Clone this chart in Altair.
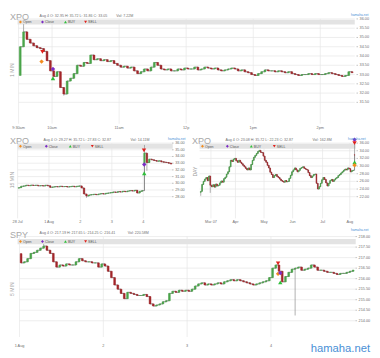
import altair as alt
import pandas as pd

# ---------------- canvas ----------------
W, H = 372, 350
SX, SY = W / 380.0, H / 358.0


def X(v):
    return round(v * SX, 2)


def Y(v):
    return round(v * SY, 2)


FONT = "Liberation Sans"
GREEN = "#4aa54a"
RED = "#a3262a"
WICK = "#8c8c8c"
LINE = "#555555"
GRID = "#e6e6e6"
LBL = "#707070"
BAND = "#e3e3e3"
TITLE_C = "#a8a8a8"
BLUE = "#4a90d6"
KIND_STYLE = {
    "Open": ("diamond", "#f28c1e"),
    "Close": ("diamond", "#7b2cc4"),
    "BUY": ("triangle-up", "#2fbf3a"),
    "SELL": ("triangle-down", "#e0201b"),
}
LEGEND_NAMES = ["Open", "Close", "BUY", "SELL"]

# ---------------- XPO 1 MIN (bars every 3 minutes from 9:30) ----------------
p1_close = [
    34.50, 35.30, 34.90, 34.70, 34.55, 34.45, 34.40, 34.25, 33.75, 33.20,
    32.90, 33.15, 32.30, 31.95, 32.65, 32.80, 33.05, 33.50, 33.45, 33.65,
    33.60, 34.05, 33.80, 33.85, 33.75, 33.80, 33.70, 33.75, 33.60, 33.50,
    33.40, 33.45, 33.35, 33.40, 33.20, 33.05, 33.15, 33.30, 33.20, 33.40,
    33.65, 33.50, 33.30, 33.25, 33.30, 33.20, 33.20, 33.30, 33.25, 33.35,
    33.30, 33.30, 33.40, 33.25, 33.30, 33.40, 33.35, 33.30, 33.35, 33.25,
    33.20, 33.25, 33.30, 33.35, 33.30, 33.20, 33.25, 33.15, 33.10, 33.00,
    32.95, 33.05, 33.15, 33.25, 33.20, 33.20, 33.15, 33.20, 33.15, 33.10,
    33.15, 33.05, 33.00, 32.95, 33.00, 33.00, 33.05, 33.00, 33.05, 33.00,
    33.00, 33.05, 33.10, 33.05, 33.00, 32.95, 32.90, 32.95, 33.15, 33.10,
]
p1_first_open = 32.95
p1_gap_opens = {}
p1_highs = {1: 35.72}
p1_lows = {13: 31.86}
p1_xticks = [0, 10, 30, 50, 70, 90]
p1_xlabels = ["9:30am", "10am", "11am", "12p", "1pm", "2pm"]
p1_yticks = [31.5, 32.0, 32.5, 33.0, 33.5, 34.0, 34.5, 35.0, 35.5, 36.0]
p1_mark_x = [6.87, 7.13, 10.27, 10.27]
p1_mark_p = [33.70, 34.22, 33.30, 32.80]
p1_mark_kind = ["Open", "SELL", "Close", "BUY"]

# ---------------- XPO 15 MIN (bars every 30 minutes, 29 Jul - 4 Aug) ----------------
p2_close = [
    29.35, 29.55, 29.60, 29.70, 29.65, 29.72, 29.68, 29.70, 29.62, 29.65, 29.60, 29.70, 29.62,
    29.40, 29.45, 29.50, 29.48, 29.55, 29.50, 29.52, 29.45, 29.50, 29.55, 29.48, 29.55, 29.60,
    29.30, 28.40, 28.10, 28.25, 28.30, 28.35, 28.30, 28.40, 28.45, 28.40, 28.50, 28.55, 28.60,
    28.70, 28.65, 28.75, 28.70, 28.80, 28.75, 28.85, 28.90, 28.85, 28.95, 28.55, 28.80, 28.90,
    34.50, 33.10, 33.60, 33.50, 33.40, 33.30, 33.35, 33.20, 33.15, 33.10, 33.00, 32.87,
]
p2_first_open = 29.27
p2_gap_opens = {52: 32.95}
p2_highs = {52: 35.72}
p2_lows = {28: 27.83, 53: 31.86}
p2_xticks = [0, 13, 26, 39, 52]
p2_xlabels = ["28 Jul", "1 Aug", "2", "3", "4"]
p2_yticks = [28, 29, 30, 31, 32, 33, 34, 35, 36]
p2_mark_x = [52.3, 52.4, 52.4]
p2_mark_p = [34.90, 32.80, 31.50]
p2_mark_kind = ["SELL", "Close", "BUY"]

# ---------------- XPO DAY (24 Feb - 4 Aug trading days) ----------------
p3_close = [
    23.40, 25.20, 26.00, 26.60, 27.00, 26.20, 27.40, 25.00, 24.60, 25.10,
    24.50, 25.30, 24.80, 25.00, 25.60, 26.10, 25.80, 26.70, 27.10, 27.90,
    28.50, 29.80, 31.50, 31.20, 31.80, 32.00, 31.40, 31.00, 31.50, 31.00,
    30.60, 30.20, 29.80, 29.40, 29.00, 29.50, 29.00, 30.40, 31.50, 32.30,
    32.80, 33.30, 33.80, 34.10, 33.60, 33.50, 32.60, 31.50, 31.00, 30.20,
    29.50, 28.40, 27.80, 27.00, 27.50, 27.80, 27.30, 27.00, 26.60, 26.20,
    26.00, 25.80, 26.20, 25.90, 26.00, 26.80, 27.60, 28.50, 29.00, 29.50,
    29.00, 28.50, 28.90, 29.40, 29.60, 29.80, 29.40, 29.20, 29.00, 28.30,
    27.50, 27.00, 27.40, 27.80, 27.90, 25.50, 24.00, 24.60, 25.50, 26.40,
    27.00, 26.50, 25.60, 24.80, 25.50, 26.20, 26.50, 26.00, 26.40, 26.80,
    27.00, 27.50, 27.80, 28.20, 28.50, 28.90, 29.20, 29.00, 29.50, 29.30,
    28.50, 28.80, 28.90, 32.87,
]
p3_first_open = 23.08
p3_gap_opens = {113: 32.95}
p3_highs = {113: 35.72}
p3_lows = {0: 22.23, 7: 23.00, 113: 30.00}
p3_xticks = [8, 26, 47, 68, 90, 110]
p3_xlabels = ["Mar 07", "Apr", "May", "Jun", "Jul", "Aug"]
p3_yticks = [22, 24, 26, 28, 30, 32, 34, 36]
p3_mark_x = [113.5, 113.5, 113.5, 113.5]
p3_mark_p = [36.90, 36.00, 31.00, 30.20]
p3_mark_kind = ["Close", "SELL", "BUY", "Open"]

# ---------------- SPY 5 MIN (bars every 15 minutes, 1 - 4 Aug) ----------------
p4_close = [
    216.75, 216.80, 216.95, 217.20, 217.25, 217.35, 217.45, 217.55, 217.35, 217.20,
    216.80, 216.55, 216.65, 216.60, 216.70, 216.65, 216.65, 216.80, 216.95, 216.85,
    216.80, 216.80, 216.75, 216.75, 216.55, 216.70,
    216.60, 216.35, 216.05, 215.70, 215.50, 215.30, 215.05, 215.35, 215.30, 215.25,
    215.20, 215.20, 215.25, 215.15, 214.80, 214.70, 214.75, 214.80, 214.90, 214.95,
    215.30, 215.40, 215.35, 215.45, 215.40, 215.45,
    215.40, 215.50, 215.65, 215.75, 215.80, 215.70, 215.75, 215.70, 215.75, 215.80,
    215.75, 215.85, 215.90, 215.95, 215.90, 215.95, 215.90, 215.85, 215.80, 215.75,
    215.70, 215.75, 215.80, 215.85, 215.90, 216.05,
    216.50, 216.65, 216.35, 215.85, 216.10, 216.30, 216.45, 216.50, 216.55, 216.40,
    216.45, 216.50, 216.65, 216.55, 216.40, 216.40, 216.35, 216.30, 216.30, 216.25,
    216.20, 216.25, 216.25, 216.30, 216.35, 216.41,
]
p4_first_open = 217.19
p4_gap_opens = {}
p4_highs = {7: 217.65}
p4_lows = {85: 214.25}
p4_xticks = [0, 26, 52, 78]
p4_xlabels = ["1 Aug", "2", "3", "4"]
p4_yticks = [214.0, 214.5, 215.0, 215.5, 216.0, 216.5, 217.0, 217.5, 218.0]
p4_mark_x = [80.2, 80.2, 80.9, 80.9]
p4_mark_p = [216.73, 216.23, 216.27, 215.82]
p4_mark_kind = ["SELL", "Open", "Close", "BUY"]


# ---------------- helpers ----------------
def ohlc(closes, first_open, gap_opens, highs, lows, half=0.3):
    rows = []
    prev = first_open
    for i, c in enumerate(closes):
        o = gap_opens.get(i, prev)
        top, bot = max(o, c), min(o, c)
        rows.append({
            "i": i + 0.5, "x0": i + 0.5 - half, "x1": i + 0.5 + half,
            "top": top, "bot": bot, "close": c,
            "hi": highs.get(i, top), "lo": lows.get(i, bot),
            "col": GREEN if c >= o else RED,
        })
        prev = c
    return pd.DataFrame(rows)


def markers(xv, pv, kinds):
    return pd.DataFrame({
        "i": xv, "p": pv,
        "shape": [KIND_STYLE[k][0] for k in kinds],
        "col": [KIND_STYLE[k][1] for k in kinds],
    })


def text_layer(rows, align="left", baseline="alphabetic", angle=0):
    df = pd.DataFrame(rows, columns=["x", "y", "t", "s", "c"])
    df["x"] = df["x"].map(X)
    df["y"] = df["y"].map(Y)
    return alt.Chart(df).mark_text(align=align, baseline=baseline, font=FONT, angle=angle).encode(
        x=alt.X("x:Q", scale=None, axis=None),
        y=alt.Y("y:Q", scale=None, axis=None),
        text="t:N",
        size=alt.Size("s:Q", scale=None, legend=None),
        color=alt.Color("c:N", scale=None, legend=None),
    )


FS_AX = 3.9


def build(P):
    xs = alt.Scale(domain=P["xdom"], range=[X(P["xr"][0]), X(P["xr"][1])], nice=False, zero=False)
    ys = alt.Scale(domain=P["ydom"], range=[Y(P["yr"][0]), Y(P["yr"][1])], nice=False, zero=False)
    L, R, T, B = P["box"]
    out = []
    yt = pd.DataFrame({"v": P["yticks"], "lab": [P["yfmt"].format(v) for v in P["yticks"]]})
    xt = pd.DataFrame({"v": P["xticks"], "lab": P["xlabels"]})
    # grid
    out.append(alt.Chart(yt).mark_rule(color=GRID, strokeWidth=0.7).encode(
        y=alt.Y("v:Q", scale=ys, axis=None), x=alt.value(X(L)), x2=alt.value(X(R))))
    out.append(alt.Chart(xt).mark_rule(color=GRID, strokeWidth=0.7).encode(
        x=alt.X("v:Q", scale=xs, axis=None), y=alt.value(Y(T)), y2=alt.value(Y(B))))
    # legend band
    bL, bR, bT, bB = P["band"]
    out.append(alt.Chart(pd.DataFrame({"a": [0]})).mark_rect(color=BAND).encode(
        x=alt.value(X(bL)), x2=alt.value(X(bR)), y=alt.value(Y(bT)), y2=alt.value(Y(bB))))
    # candles
    cd = P["candles"]
    out.append(alt.Chart(cd).mark_line(color=LINE, strokeWidth=0.7, interpolate="step-after").encode(
        x=alt.X("i:Q", scale=xs, axis=None),
        y=alt.Y("close:Q", scale=ys, axis=None)))
    out.append(alt.Chart(cd).mark_rule(color=WICK, strokeWidth=0.7).encode(
        x=alt.X("i:Q", scale=xs, axis=None),
        y=alt.Y("lo:Q", scale=ys, axis=None), y2="hi:Q"))
    out.append(alt.Chart(cd).mark_rect(strokeWidth=0.5).encode(
        x=alt.X("x0:Q", scale=xs, axis=None), x2="x1:Q",
        y=alt.Y("bot:Q", scale=ys, axis=None), y2="top:Q",
        color=alt.Color("col:N", scale=None, legend=None),
        stroke=alt.Stroke("col:N", scale=None, legend=None)))
    # trade markers
    out.append(alt.Chart(P["markers"]).mark_point(filled=True, opacity=1, size=20).encode(
        x=alt.X("i:Q", scale=xs, axis=None), y=alt.Y("p:Q", scale=ys, axis=None),
        shape=alt.Shape("shape:N", scale=None, legend=None),
        color=alt.Color("col:N", scale=None, legend=None)))
    # y labels + tick dashes
    out.append(alt.Chart(yt).mark_text(align="left", baseline="middle", fontSize=FS_AX, font=FONT, color=LBL).encode(
        y=alt.Y("v:Q", scale=ys, axis=None), x=alt.value(X(P["ylabx"])), text="lab:N"))
    out.append(alt.Chart(yt).mark_rule(color="#9a9a9a", strokeWidth=0.6).encode(
        y=alt.Y("v:Q", scale=ys, axis=None), x=alt.value(X(P["ylabx"] - 3.2)), x2=alt.value(X(P["ylabx"] - 1.6))))
    # x labels
    out.append(alt.Chart(xt).mark_text(align="center", baseline="middle", fontSize=FS_AX, font=FONT, color=LBL).encode(
        x=alt.X("v:Q", scale=xs, axis=None), y=alt.value(Y(P["xlaby"])), text="lab:N"))
    # legend entries
    lx = [bL + o for o in P["legoff"]]
    lc = (bT + bB) / 2.0
    leg = pd.DataFrame({
        "x": [X(v) for v in lx], "y": [Y(lc)] * 4,
        "shape": [KIND_STYLE[k][0] for k in LEGEND_NAMES],
        "col": [KIND_STYLE[k][1] for k in LEGEND_NAMES],
    })
    out.append(alt.Chart(leg).mark_point(filled=True, opacity=1, size=9).encode(
        x=alt.X("x:Q", scale=None, axis=None), y=alt.Y("y:Q", scale=None, axis=None),
        shape=alt.Shape("shape:N", scale=None, legend=None),
        color=alt.Color("col:N", scale=None, legend=None)))
    out.append(text_layer(
        [(v + 2.6, lc + 1.3, n, 3.6, "#555555") for v, n in zip(lx, LEGEND_NAMES)]))
    # headers
    tx, ty = P["title_pos"]
    ix, iy = P["info_pos"]
    out.append(text_layer([
        (tx, ty, P["title"], 9.2, TITLE_C),
        (ix, iy, P["info"], 3.7, "#707070"),
        (P["vol_x"], iy, P["vol"], 3.7, "#707070"),
        (P["tag"][0], P["tag"][1], "hamaha.net", 3.4, BLUE),
    ]))
    sx, sy = P["side_pos"]
    out.append(text_layer([(sx, sy, P["side"], 5.2, "#9a9a9a")], align="center", baseline="middle", angle=270))
    return out


panels = [
    dict(
        candles=ohlc(p1_close, p1_first_open, p1_gap_opens, p1_highs, p1_lows, half=0.28),
        markers=markers(p1_mark_x, p1_mark_p, p1_mark_kind),
        xdom=[0, 100], xr=[11, 361], ydom=[31.5, 36.0], yr=[94.7, 7.5],
        box=(11, 362, 7.5, 117), band=(10, 362, 8.3, 13.2),
        yticks=p1_yticks, yfmt="{:.2f}", xticks=p1_xticks, xlabels=p1_xlabels,
        ylabx=367, xlaby=121.5, legoff=[3, 26, 50, 71],
        title="XPO", title_pos=(2, 8.2), info="Aug 4 O: 32.95 H: 35.72 L: 31.86 C: 33.05",
        info_pos=(33, 5.4), vol="Vol: 7.22M", vol_x=113, tag=(358, 4.2),
        side="1 MIN", side_pos=(4.5, 61),
    ),
    dict(
        candles=ohlc(p2_close, p2_first_open, p2_gap_opens, p2_highs, p2_lows, half=0.3),
        markers=markers(p2_mark_x, p2_mark_p, p2_mark_kind),
        xdom=[0, 64], xr=[10, 171.5], ydom=[28, 36], yr=[193.3, 137.3],
        box=(10, 172, 137.3, 216), band=(10, 172, 138, 143.2),
        yticks=p2_yticks, yfmt="{:.2f}", xticks=p2_xticks, xlabels=p2_xlabels,
        ylabx=174.5, xlaby=219.5, legoff=[3, 30, 55, 78],
        title="XPO", title_pos=(2, 137.8), info="Aug 4 O: 29.27 H: 35.72 L: 27.83 C: 32.87",
        info_pos=(37, 135.5), vol="Vol: 14.11M", vol_x=128, tag=(167, 134.5),
        side="15 MIN", side_pos=(4.5, 176),
    ),
    dict(
        candles=ohlc(p3_close, p3_first_open, p3_gap_opens, p3_highs, p3_lows, half=0.3),
        markers=markers(p3_mark_x, p3_mark_p, p3_mark_kind),
        xdom=[0, 114], xr=[200.5, 362.5], ydom=[22, 36], yr=[193.3, 137.3],
        box=(200, 363, 137.3, 216), band=(200, 363, 138, 143.2),
        yticks=p3_yticks, yfmt="{:.2f}", xticks=p3_xticks, xlabels=p3_xlabels,
        ylabx=367, xlaby=219.5, legoff=[3, 29, 54, 78],
        title="XPO", title_pos=(192, 137.8), info="Aug 4 O: 23.08 H: 35.72 L: 22.23 C: 32.87",
        info_pos=(227, 135.5), vol="Vol: 162.8M", vol_x=318, tag=(355, 134.5),
        side="DAY", side_pos=(195.5, 167),
    ),
    dict(
        candles=ohlc(p4_close, p4_first_open, p4_gap_opens, p4_highs, p4_lows, half=0.28),
        markers=markers(p4_mark_x, p4_mark_p, p4_mark_kind),
        xdom=[0, 104], xr=[12, 362], ydom=[214, 218], yr=[323, 235],
        box=(12, 363, 235, 340), band=(10, 363, 237.5, 243),
        yticks=p4_yticks, yfmt="{:.2f}", xticks=p4_xticks, xlabels=p4_xlabels,
        ylabx=366, xlaby=349, legoff=[3, 26, 50, 71],
        title="SPY", title_pos=(2, 236.8), info="Aug 4 O: 217.19 H: 217.65 L: 214.25 C: 216.41",
        info_pos=(33, 232.5), vol="Vol: 220.58M", vol_x=125, tag=(358, 229),
        side="5 MIN", side_pos=(4.5, 290),
    ),
]

layers = []
for P in panels:
    layers += build(P)

layers.append(text_layer([(378, 356, "hamaha.net", 11.5, BLUE)], align="right"))

chart = (
    alt.layer(*layers)
    .resolve_scale(x="independent", y="independent")
    .properties(width=W, height=H, padding=0, autosize=alt.AutoSizeParams(type="none"), background="white")
    .configure_view(stroke=None)
)

chart.save("out.html", embed_options={"renderer": "svg", "actions": False})
